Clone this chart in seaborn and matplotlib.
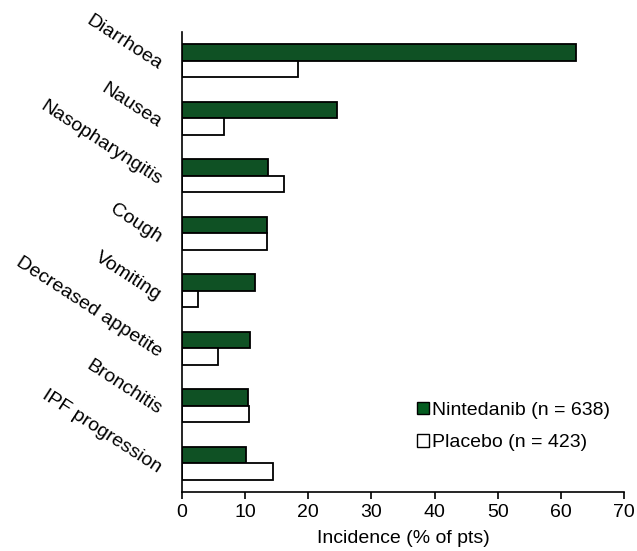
import matplotlib
matplotlib.use("Agg")
import matplotlib.pyplot as plt
import matplotlib.transforms as mtransforms
import seaborn as sns
import pandas as pd

events = ["Diarrhoea", "Nausea", "Nasopharyngitis", "Cough", "Vomiting",
          "Decreased appetite", "Bronchitis", "IPF progression"]
nintedanib = [62.4, 24.5, 13.6, 13.4, 11.6, 10.7, 10.5, 10.1]
placebo = [18.4, 6.6, 16.1, 13.5, 2.6, 5.7, 10.6, 14.4]
groups = ["Nintedanib (n = 638)", "Placebo (n = 423)"]
x_ticks = [0, 10, 20, 30, 40, 50, 60, 70]

df = pd.DataFrame({
    "event": events * 2,
    "incidence": nintedanib + placebo,
    "group": [groups[0]] * len(events) + [groups[1]] * len(events),
})

sns.set_style("white")
plt.rcParams["font.family"] = ["Liberation Sans", "DejaVu Sans"]
plt.rcParams["text.color"] = "black"
plt.rcParams["xtick.color"] = "black"
plt.rcParams["ytick.color"] = "black"
plt.rcParams["axes.labelcolor"] = "black"

fig = plt.figure(figsize=(6.37, 5.51), dpi=100)
ax = fig.add_axes([0.2857, 0.1071, 0.6939, 0.8348])

green = "#045c20"
sns.barplot(data=df, y="event", x="incidence", hue="group", order=events,
            hue_order=groups, palette={groups[0]: green, groups[1]: "white"},
            orient="h", width=0.58, edgecolor="black", linewidth=1.3,
            ax=ax, legend=False)

ax.set_xlim(0, 70)
ax.set_ylim(len(events) - 0.5, -0.5)
ax.set_xticks(x_ticks)
ax.set_xticklabels([str(t) for t in x_ticks], fontsize=14)
ax.set_xlabel("Incidence (% of pts)", fontsize=14, labelpad=6)
ax.set_ylabel("")
ax.tick_params(axis="x", direction="out", length=5, width=1.2, color="black",
               bottom=True, pad=4)
ax.tick_params(axis="y", length=0, pad=16)
ax.set_yticks(range(len(events)))
ax.set_yticklabels(events, fontsize=14, rotation=-33, ha="right",
                   va="center", rotation_mode="anchor")

# nudge the slanted category labels slightly downward
shift = mtransforms.ScaledTranslation(0, -4 / 72, fig.dpi_scale_trans)
for lbl in ax.get_yticklabels():
    lbl.set_transform(lbl.get_transform() + shift)

for side in ["top", "right"]:
    ax.spines[side].set_visible(False)
for side in ["left", "bottom"]:
    ax.spines[side].set_color("black")
    ax.spines[side].set_linewidth(1.2)

handles = [plt.Rectangle((0, 0), 1, 1, facecolor=green, edgecolor="black", linewidth=1),
           plt.Rectangle((0, 0), 1, 1, facecolor="white", edgecolor="black", linewidth=1)]
ax.legend(handles, groups, loc="lower right", bbox_to_anchor=(1.007, 0.05),
          frameon=False, fontsize=14, handlelength=0.6, handleheight=0.6,
          handletextpad=0.15, labelspacing=0.8)

fig.savefig("out.png", dpi=100)
